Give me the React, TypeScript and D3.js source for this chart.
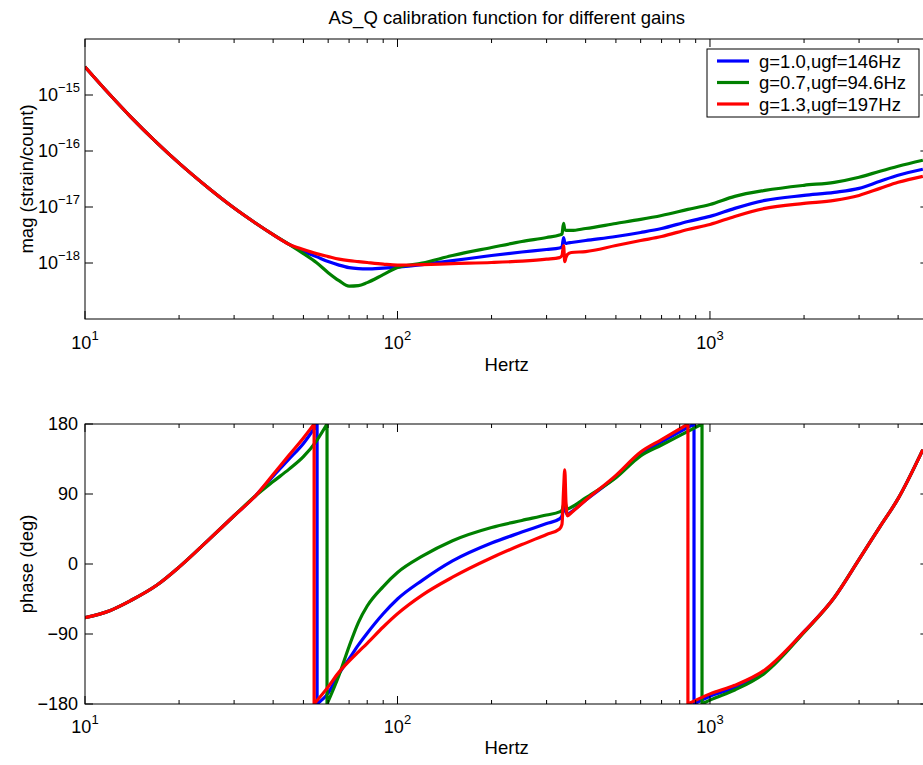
import React from "react";
import * as d3 from "d3";

const TITLE = "AS_Q calibration function for different gains";
const SERIES_NAMES = ["g=1.0,ugf=146Hz", "g=0.7,ugf=94.6Hz", "g=1.3,ugf=197Hz"];
const SERIES_COLORS = ["#0000ff", "#008000", "#ff0000"];
const MAG_LABEL = "mag (strain/count)";
const PHASE_LABEL = "phase (deg)";
const X_LABEL = "Hertz";

// Magnitude (strain/count) vs frequency (Hz)
const magFreq = [10, 12, 14, 17, 20, 25, 30, 35, 40, 45, 50, 55, 60, 65, 70, 75, 80, 90, 100, 120, 150, 200, 250, 300, 330, 336, 340, 343, 346, 350, 360, 400, 500, 600, 700, 850, 1000, 1200, 1500, 2000, 2500, 3000, 3500, 4000, 4800];
const magBlue = [3.18e-15, 1.02e-15, 4.08e-16, 1.4e-16, 6.07e-17, 2.12e-17, 9.59e-18, 5.24e-18, 3.21e-18, 2.15e-18,
  1.6e-18, 1.3e-18, 1.06e-18, 9.17e-19, 8.28e-19, 7.94e-19, 7.84e-19, 8.11e-19, 8.45e-19, 9.36e-19, 1.1e-18, 1.36e-18, 1.57e-18, 1.74e-18, 1.85e-18, 1.93e-18, 2.85e-18, 2.32e-18, 2.23e-18, 2.27e-18, 2.32e-18, 2.52e-18, 2.97e-18, 3.51e-18, 4.13e-18, 5.52e-18, 6.79e-18, 9.44e-18, 1.31e-17, 1.61e-17, 1.83e-17, 2.15e-17, 2.88e-17, 3.68e-17, 4.72e-17];
const magGreen = [3.18e-15, 1.02e-15, 4.08e-16, 1.4e-16, 6.07e-17, 2.12e-17, 9.59e-18, 5.24e-18, 3.21e-18, 2.15e-18,
  1.47e-18, 1.02e-18, 6.73e-19, 4.84e-19, 3.86e-19, 3.94e-19, 4.46e-19, 6.19e-19, 8.28e-19, 9.96e-19, 1.36e-18, 1.89e-18, 2.42e-18, 2.85e-18, 3.16e-18, 3.3e-18, 5.08e-18, 3.97e-18, 3.81e-18, 3.81e-18, 3.81e-18, 4.13e-18, 5.08e-18, 6.0e-18, 7.06e-18, 9.06e-18, 1.11e-17, 1.55e-17, 1.98e-17, 2.44e-17, 2.76e-17, 3.39e-17, 4.35e-17, 5.34e-17, 6.84e-17];
const magRed = [3.18e-15, 1.02e-15, 4.08e-16, 1.4e-16, 6.07e-17, 2.12e-17, 9.59e-18, 5.24e-18, 3.21e-18, 2.15e-18,
  1.74e-18, 1.47e-18, 1.3e-18, 1.17e-18, 1.1e-18, 1.06e-18, 1.02e-18, 9.55e-19, 9.17e-19, 9.36e-19, 9.75e-19, 1.02e-18, 1.08e-18, 1.17e-18, 1.25e-18, 1.36e-18, 2.05e-18, 1.06e-18, 1.25e-18, 1.42e-18, 1.54e-18, 1.6e-18, 2.05e-18, 2.52e-18, 2.97e-18, 3.97e-18, 4.88e-18, 6.79e-18, 9.44e-18, 1.16e-17, 1.31e-17, 1.61e-17, 2.15e-17, 2.76e-17, 3.53e-17];

// Phase (deg) vs frequency (Hz); repeated frequency = phase wrap
const phaseFreqBlue = [10, 12, 14, 17, 20, 25, 30, 35, 40, 45, 50, 55.3, 55.3, 60, 65, 70, 75, 80, 90, 100, 120, 150, 200, 250, 300, 330, 336, 340, 343, 346, 350, 360, 400, 500, 600, 700, 800, 889, 889, 1000, 1200, 1500, 2000, 2500, 3000, 3500, 4000, 4800];
const phaseBlue = [-69, -60, -47, -27, -4, 32, 62, 87, 113, 135, 155, 180, -180, -166, -141, -122, -104, -89, -64, -45, -21, 4, 27, 41, 52, 58, 62, 75, 85, 67, 64, 67, 82, 112, 142, 157, 170, 180, -180, -170, -159, -138, -87, -43, 6, 48, 84, 147];
const phaseFreqGreen = [10, 12, 14, 17, 20, 25, 30, 35, 40, 45, 50, 55, 59.5, 59.5, 65, 70, 75, 80, 90, 100, 120, 150, 200, 250, 300, 330, 336, 340, 343, 346, 350, 360, 400, 500, 600, 700, 800, 943, 943, 1000, 1200, 1500, 2000, 2500, 3000, 3500, 4000, 4800];
const phaseGreen = [-69, -60, -47, -27, -4, 32, 62, 87, 106, 122, 138, 158, 180, -180, -143, -106, -75, -54, -29, -11, 10, 30, 47, 56, 63, 67, 69, 76, 80, 75, 71, 73, 85, 111, 139, 153, 165, 180, -180, -175, -162, -140, -88, -43, 6, 48, 84, 147];
const phaseFreqRed = [10, 12, 14, 17, 20, 25, 30, 35, 40, 45, 50, 54.1, 54.1, 60, 65, 70, 75, 80, 90, 100, 120, 150, 200, 250, 300, 330, 336, 340, 343, 346, 350, 360, 400, 500, 600, 700, 850, 850, 1000, 1200, 1500, 2000, 2500, 3000, 3500, 4000, 4800];
const phaseRed = [-69, -60, -47, -27, -4, 32, 62, 87, 115, 140, 162, 180, -180, -158, -139, -125, -113, -102, -81, -64, -40, -17, 8, 25, 38, 45, 51, 95, 121, 80, 62, 66, 82, 114, 144, 160, 180, -180, -167, -156, -136, -87, -43, 6, 48, 84, 147];

const xMajorTicks = [10, 100, 1000];
const xMinorTicks = [20, 30, 40, 50, 60, 70, 80, 90, 200, 300, 400, 500, 600, 700, 800, 900, 2000, 3000, 4000];
const xTickExp = ["1", "2", "3"];
const magTicks = [1e-15, 1e-16, 1e-17, 1e-18];
const magTickExp = ["\u221215", "\u221216", "\u221217", "\u221218"];
const phaseTicks = [180, 90, 0, -90, -180];
const phaseTickLabels = ["180", "90", "0", "\u221290", "\u2212180"];

const W = 923;
const H = 765;
const FONT = "'Liberation Sans', Arial, Helvetica, sans-serif";
const L = 85;
const R = 928.4;
const T1 = 39;
const B1 = 319;
const T2 = 424;
const B2 = 704;

const x = d3.scaleLog().domain([10, 5000]).range([L, R]);
const yMag = d3.scaleLog().domain([1e-19, 1e-14]).range([B1, T1]);
const yPh = d3.scaleLinear().domain([-180, 180]).range([B2, T2]);

function buildPath(fs: number[], vs: number[], ys: (v: number) => number): string {
  const line = d3
    .line<[number, number]>()
    .x((d) => x(d[0]))
    .y((d) => ys(d[1]))
    .curve(d3.curveMonotoneX);
  const segs: [number, number][][] = [];
  let cur: [number, number][] = [];
  for (let i = 0; i < fs.length; i++) {
    if (i > 0 && fs[i] === fs[i - 1]) {
      segs.push(cur);
      cur = [];
    }
    cur.push([fs[i], vs[i]]);
  }
  segs.push(cur);
  return segs
    .map((s, i) => {
      const p = line(s) || "";
      return i === 0 ? p : p.replace(/^M/, "L");
    })
    .join("");
}

const TICK_MAJ = 8;
const TICK_MIN = 4;
const FS = 18;
const FS_TXT = 18.5;
const EXP_FS = 13;
const LW = 3.2;

function XTicks({ top, bottom, labelY }: { top: number; bottom: number; labelY: number }) {
  return (
    <g>
      {xMajorTicks.map((t, i) => (
        <g key={"M" + t}>
          <line x1={x(t)} x2={x(t)} y1={bottom} y2={bottom - TICK_MAJ} stroke="#000" />
          <line x1={x(t)} x2={x(t)} y1={top} y2={top + TICK_MAJ} stroke="#000" />
          <text x={x(t)} y={labelY} textAnchor="middle" fontSize={FS}>
            10<tspan dy={-9} fontSize={EXP_FS}>{xTickExp[i]}</tspan>
          </text>
        </g>
      ))}
      {xMinorTicks.map((t) => (
        <g key={"m" + t}>
          <line x1={x(t)} x2={x(t)} y1={bottom} y2={bottom - TICK_MIN} stroke="#000" />
          <line x1={x(t)} x2={x(t)} y1={top} y2={top + TICK_MIN} stroke="#000" />
        </g>
      ))}
    </g>
  );
}

export default function App() {
  const magSeries = [magBlue, magGreen, magRed];
  const phaseSeries: [number[], number[]][] = [
    [phaseFreqBlue, phaseBlue],
    [phaseFreqGreen, phaseGreen],
    [phaseFreqRed, phaseRed],
  ];
  return (
    <svg
      width={W}
      height={H}
      style={{ position: "absolute", left: 0, top: 0, background: "#fff" }}
      fontFamily={FONT}
    >
      <defs>
        <clipPath id="c1">
          <rect x={L} y={T1} width={R - L} height={B1 - T1} />
        </clipPath>
        <clipPath id="c2">
          <rect x={L} y={T2} width={R - L} height={B2 - T2} />
        </clipPath>
      </defs>
      <rect x={0} y={0} width={W} height={H} fill="#fff" />
      <text x={(L + R) / 2} y={24} textAnchor="middle" fontSize={FS_TXT}>
        {TITLE}
      </text>

      {/* ---------- magnitude axes ---------- */}
      <g clipPath="url(#c1)">
        {magSeries.map((vals, i) => (
          <path
            key={i}
            d={buildPath(magFreq, vals, yMag)}
            fill="none"
            stroke={SERIES_COLORS[i]}
            strokeWidth={LW}
            strokeLinejoin="round"
          />
        ))}
      </g>
      <rect x={L} y={T1} width={R - L} height={B1 - T1} fill="none" stroke="#000" strokeWidth={1} />
      <XTicks top={T1} bottom={B1} labelY={349} />
      {magTicks.map((t, i) => (
        <g key={"ym" + i}>
          <line x1={L} x2={L + TICK_MAJ} y1={yMag(t)} y2={yMag(t)} stroke="#000" />
          <line x1={R} x2={R - TICK_MAJ} y1={yMag(t)} y2={yMag(t)} stroke="#000" />
          <text x={80} y={yMag(t) + 6} textAnchor="end" fontSize={FS}>
            10<tspan dy={-9} fontSize={EXP_FS}>{magTickExp[i]}</tspan>
          </text>
        </g>
      ))}
      <text x={L + (R - L) / 2} y={371} textAnchor="middle" fontSize={FS_TXT}>
        {X_LABEL}
      </text>
      <text transform={`translate(33,${(T1 + B1) / 2}) rotate(-90)`} textAnchor="middle" fontSize={FS_TXT}>
        {MAG_LABEL}
      </text>

      {/* legend */}
      <g>
        <rect x={707} y={49} width={212} height={68} fill="#fff" stroke="#000" strokeWidth={1} />
        {SERIES_NAMES.map((n, i) => (
          <g key={n}>
            <line x1={717} x2={749} y1={61 + i * 21.5} y2={61 + i * 21.5} stroke={SERIES_COLORS[i]} strokeWidth={LW} />
            <text x={759} y={61 + i * 21.5 + 6.5} fontSize={FS_TXT}>
              {n}
            </text>
          </g>
        ))}
      </g>

      {/* ---------- phase axes ---------- */}
      <g clipPath="url(#c2)">
        {phaseSeries.map(([fs, vs], i) => (
          <path
            key={i}
            d={buildPath(fs, vs, yPh)}
            fill="none"
            stroke={SERIES_COLORS[i]}
            strokeWidth={LW}
            strokeLinejoin="round"
          />
        ))}
      </g>
      <rect x={L} y={T2} width={R - L} height={B2 - T2} fill="none" stroke="#000" strokeWidth={1} />
      <XTicks top={T2} bottom={B2} labelY={733} />
      {phaseTicks.map((t, i) => (
        <g key={"yp" + i}>
          <line x1={L} x2={L + TICK_MAJ} y1={yPh(t)} y2={yPh(t)} stroke="#000" />
          <line x1={R} x2={R - TICK_MAJ} y1={yPh(t)} y2={yPh(t)} stroke="#000" />
          <text x={78} y={yPh(t) + 6} textAnchor="end" fontSize={FS}>
            {phaseTickLabels[i]}
          </text>
        </g>
      ))}
      <text x={L + (R - L) / 2} y={754} textAnchor="middle" fontSize={FS_TXT}>
        {X_LABEL}
      </text>
      <text transform={`translate(33,${(T2 + B2) / 2}) rotate(-90)`} textAnchor="middle" fontSize={FS_TXT}>
        {PHASE_LABEL}
      </text>
    </svg>
  );
}
